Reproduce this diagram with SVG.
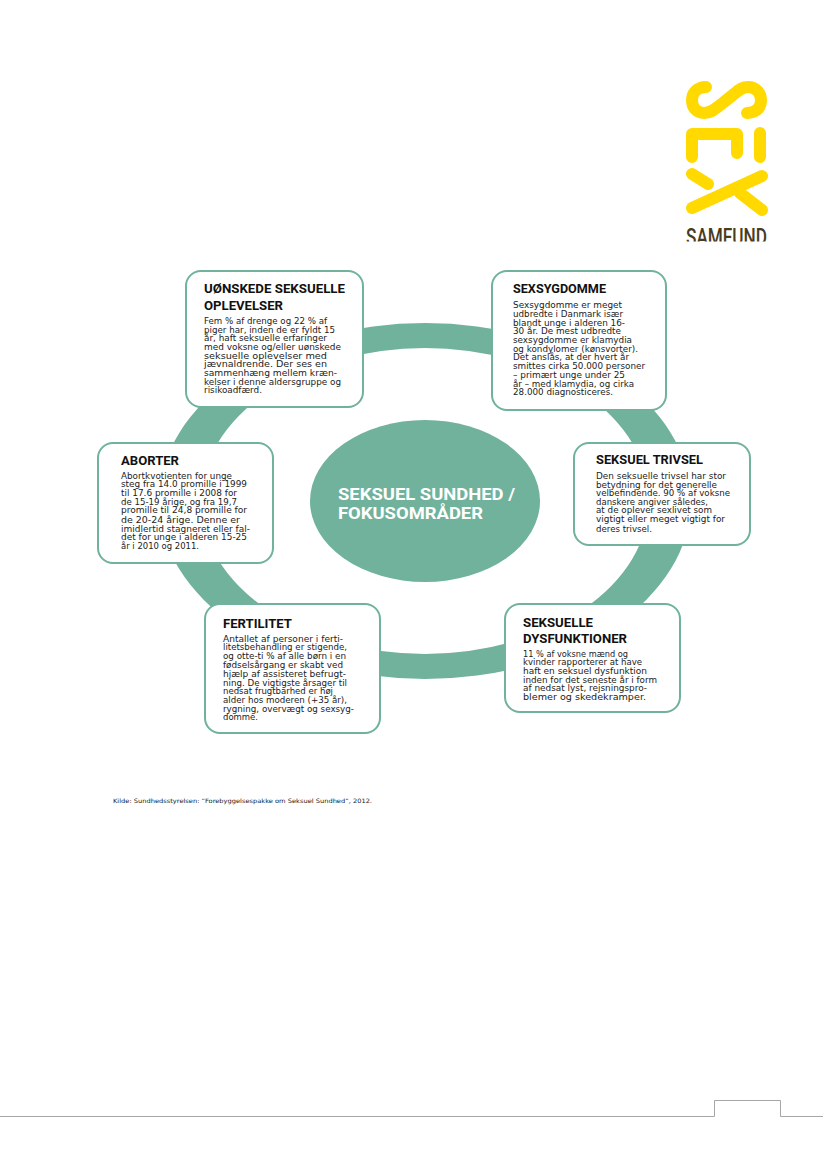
<svg xmlns="http://www.w3.org/2000/svg" width="827" height="1169" viewBox="0 0 827 1169">
<style>
.box{fill:#fff;stroke:#70b29b;stroke-width:2}
.t{font-family:"Roboto","Liberation Sans",sans-serif;font-weight:700;font-size:13px;fill:#111}
.b{font-family:"DejaVu Sans","Liberation Sans",sans-serif;font-size:8.1px;fill:#222}
.c{font-family:"Roboto","Liberation Sans",sans-serif;font-weight:700;font-size:17px;fill:#fff}
.y{fill:none;stroke:#ffd900;stroke-width:12;stroke-linecap:round;stroke-linejoin:round}
</style>
<defs><clipPath id="cut"><rect x="680" y="220" width="95" height="21.5"/></clipPath></defs>
<rect width="827" height="1169" fill="#fff"/>
<g id="logo">
<path class="y" d="M706 87C697 87 692 93 692 100C692 108 697 113 704 113C712 113 716 108 724 102L734 94C740 89 743 87 748 87C756 87 761 93 761 100C761 108 756 113 747 113"/>
<path class="y" d="M692 157V134H737V153M760 133V157"/>
<path class="y" d="M692 208L762 176M692 174L708 184M740 193L762 210"/>
<text clip-path="url(#cut)" x="686" y="245" textLength="81" lengthAdjust="spacingAndGlyphs" style="font-family:Roboto,sans-serif;font-size:24px;font-weight:500;fill:#4a3b1e">SAMFUND</text>
</g>
<g id="connectors">
<path d="M159 501a266 178 0 1 0 532 0a266 178 0 1 0-532 0ZM201 501a224 153 0 1 0 448 0a224 153 0 1 0-448 0Z" fill="#70b29b" fill-rule="evenodd"/>
</g>
<g id="center">
<ellipse cx="425" cy="501" rx="115" ry="81" fill="#70b29b"/>
<text class="c" x="338" y="499.5" textLength="177" lengthAdjust="spacingAndGlyphs">SEKSUEL SUNDHED /</text>
<text class="c" x="338" y="518.5" textLength="145" lengthAdjust="spacingAndGlyphs">FOKUSOMRÅDER</text>
</g>
<g id="node-uonskede">
<rect class="box" x="186" y="271" width="177" height="136" rx="15"/>
<text class="t" x="204" y="293" textLength="141" lengthAdjust="spacingAndGlyphs">UØNSKEDE SEKSUELLE</text>
<text class="t" x="204" y="310" textLength="79" lengthAdjust="spacingAndGlyphs">OPLEVELSER</text>
<text class="b" x="204" y="324" textLength="123" lengthAdjust="spacingAndGlyphs">Fem % af drenge og 22 % af</text>
<text class="b" x="204" y="332.7" textLength="131" lengthAdjust="spacingAndGlyphs">piger har, inden de er fyldt 15</text>
<text class="b" x="204" y="341.3" textLength="123" lengthAdjust="spacingAndGlyphs">år, haft seksuelle erfaringer</text>
<text class="b" x="204" y="350" textLength="137" lengthAdjust="spacingAndGlyphs">med voksne og/eller uønskede</text>
<text class="b" x="204" y="358.7" textLength="123" lengthAdjust="spacingAndGlyphs">seksuelle oplevelser med</text>
<text class="b" x="204" y="367.3" textLength="123" lengthAdjust="spacingAndGlyphs">jævnaldrende. Der ses en</text>
<text class="b" x="204" y="376" textLength="133" lengthAdjust="spacingAndGlyphs">sammenhæng mellem kræn-</text>
<text class="b" x="204" y="384.7" textLength="137" lengthAdjust="spacingAndGlyphs">kelser i denne aldersgruppe og</text>
<text class="b" x="204" y="393.3" textLength="58" lengthAdjust="spacingAndGlyphs">risikoadfærd.</text>
</g>
<g id="node-sexsygdomme">
<rect class="box" x="492" y="271" width="174" height="139" rx="15"/>
<text class="t" x="513" y="293" textLength="93" lengthAdjust="spacingAndGlyphs">SEXSYGDOMME</text>
<text class="b" x="513" y="308" textLength="109" lengthAdjust="spacingAndGlyphs">Sexsygdomme er meget</text>
<text class="b" x="513" y="316.7" textLength="110" lengthAdjust="spacingAndGlyphs">udbredte i Danmark især</text>
<text class="b" x="513" y="325.7" textLength="112" lengthAdjust="spacingAndGlyphs">blandt unge i alderen 16-</text>
<text class="b" x="513" y="334.3" textLength="108" lengthAdjust="spacingAndGlyphs">30 år. De mest udbredte</text>
<text class="b" x="513" y="343" textLength="119" lengthAdjust="spacingAndGlyphs">sexsygdomme er klamydia</text>
<text class="b" x="513" y="351.7" textLength="125" lengthAdjust="spacingAndGlyphs">og kondylomer (kønsvorter).</text>
<text class="b" x="513" y="360.3" textLength="116" lengthAdjust="spacingAndGlyphs">Det anslås, at der hvert år</text>
<text class="b" x="513" y="369" textLength="132" lengthAdjust="spacingAndGlyphs">smittes cirka 50.000 personer</text>
<text class="b" x="513" y="377.7" textLength="112" lengthAdjust="spacingAndGlyphs">– primært unge under 25</text>
<text class="b" x="513" y="386.7" textLength="121" lengthAdjust="spacingAndGlyphs">år – med klamydia, og cirka</text>
<text class="b" x="513" y="395" textLength="100" lengthAdjust="spacingAndGlyphs">28.000 diagnosticeres.</text>
</g>
<g id="node-aborter">
<rect class="box" x="98" y="443" width="175" height="120" rx="15"/>
<text class="t" x="121" y="465" textLength="58" lengthAdjust="spacingAndGlyphs">ABORTER</text>
<text class="b" x="121" y="479" textLength="111" lengthAdjust="spacingAndGlyphs">Abortkvotienten for unge</text>
<text class="b" x="121" y="487.3" textLength="126" lengthAdjust="spacingAndGlyphs">steg fra 14.0 promille i 1999</text>
<text class="b" x="121" y="496" textLength="116" lengthAdjust="spacingAndGlyphs">til 17.6 promille i 2008 for</text>
<text class="b" x="121" y="505" textLength="116" lengthAdjust="spacingAndGlyphs">de 15-19 årige, og fra 19,7</text>
<text class="b" x="121" y="513.3" textLength="126" lengthAdjust="spacingAndGlyphs">promille til 24,8 promille for</text>
<text class="b" x="121" y="522.7" textLength="119" lengthAdjust="spacingAndGlyphs">de 20-24 årige. Denne er</text>
<text class="b" x="121" y="531.7" textLength="129" lengthAdjust="spacingAndGlyphs">imidlertid stagneret eller fal-</text>
<text class="b" x="121" y="540" textLength="126" lengthAdjust="spacingAndGlyphs">det for unge i alderen 15-25</text>
<text class="b" x="121" y="549.3" textLength="78" lengthAdjust="spacingAndGlyphs">år i 2010 og 2011.</text>
</g>
<g id="node-trivsel">
<rect class="box" x="574" y="443" width="176" height="102" rx="15"/>
<text class="t" x="596" y="464" textLength="107" lengthAdjust="spacingAndGlyphs">SEKSUEL TRIVSEL</text>
<text class="b" x="596" y="479" textLength="130" lengthAdjust="spacingAndGlyphs">Den seksuelle trivsel har stor</text>
<text class="b" x="596" y="487.7" textLength="121" lengthAdjust="spacingAndGlyphs">betydning for det generelle</text>
<text class="b" x="596" y="496" textLength="134" lengthAdjust="spacingAndGlyphs">velbefindende. 90 % af voksne</text>
<text class="b" x="596" y="505" textLength="112" lengthAdjust="spacingAndGlyphs">danskere angiver således,</text>
<text class="b" x="596" y="513.3" textLength="116" lengthAdjust="spacingAndGlyphs">at de oplever sexlivet som</text>
<text class="b" x="596" y="522.3" textLength="129" lengthAdjust="spacingAndGlyphs">vigtigt eller meget vigtigt for</text>
<text class="b" x="596" y="531.7" textLength="56" lengthAdjust="spacingAndGlyphs">deres trivsel.</text>
</g>
<g id="node-fertilitet">
<rect class="box" x="205" y="604" width="175" height="129" rx="15"/>
<text class="t" x="223" y="628" textLength="69" lengthAdjust="spacingAndGlyphs">FERTILITET</text>
<text class="b" x="223" y="641.7" textLength="120" lengthAdjust="spacingAndGlyphs">Antallet af personer i ferti-</text>
<text class="b" x="223" y="650.3" textLength="124" lengthAdjust="spacingAndGlyphs">litetsbehandling er stigende,</text>
<text class="b" x="223" y="659" textLength="123" lengthAdjust="spacingAndGlyphs">og otte-ti % af alle børn i en</text>
<text class="b" x="223" y="667.7" textLength="120" lengthAdjust="spacingAndGlyphs">fødselsårgang er skabt ved</text>
<text class="b" x="223" y="676.7" textLength="123" lengthAdjust="spacingAndGlyphs">hjælp af assisteret befrugt-</text>
<text class="b" x="223" y="685.7" textLength="124" lengthAdjust="spacingAndGlyphs">ning. De vigtigste årsager til</text>
<text class="b" x="223" y="694" textLength="110" lengthAdjust="spacingAndGlyphs">nedsat frugtbarhed er høj</text>
<text class="b" x="223" y="703.3" textLength="124" lengthAdjust="spacingAndGlyphs">alder hos moderen (+35 år),</text>
<text class="b" x="223" y="711.7" textLength="131" lengthAdjust="spacingAndGlyphs">rygning, overvægt og sexsyg-</text>
<text class="b" x="223" y="720.3" textLength="35" lengthAdjust="spacingAndGlyphs">domme.</text>
</g>
<g id="node-dysfunktioner">
<rect class="box" x="505" y="604" width="175" height="108" rx="15"/>
<text class="t" x="523" y="627" textLength="70" lengthAdjust="spacingAndGlyphs">SEKSUELLE</text>
<text class="t" x="523" y="643" textLength="104" lengthAdjust="spacingAndGlyphs">DYSFUNKTIONER</text>
<text class="b" x="523" y="656.7" textLength="105" lengthAdjust="spacingAndGlyphs">11 % af voksne mænd og</text>
<text class="b" x="523" y="665.3" textLength="119" lengthAdjust="spacingAndGlyphs">kvinder rapporterer at have</text>
<text class="b" x="523" y="674" textLength="124" lengthAdjust="spacingAndGlyphs">haft en seksuel dysfunktion</text>
<text class="b" x="523" y="682.7" textLength="134" lengthAdjust="spacingAndGlyphs">inden for det seneste år i form</text>
<text class="b" x="523" y="691.3" textLength="124" lengthAdjust="spacingAndGlyphs">af nedsat lyst, rejsningspro-</text>
<text class="b" x="523" y="700" textLength="123" lengthAdjust="spacingAndGlyphs">blemer og skedekramper.</text>
</g>
<text x="113" y="803" textLength="259" lengthAdjust="spacingAndGlyphs" style="font-family:'DejaVu Sans',sans-serif;font-size:6px;fill:#222">Kilde: Sundhedsstyrelsen: ”Forebyggelsespakke om Seksuel Sundhed”, 2012.</text>
<path d="M0 1116.5H714.5V1100.5H780.5V1116.5H823" fill="none" stroke="#a6a6a6" stroke-width="1"/>
</svg>
